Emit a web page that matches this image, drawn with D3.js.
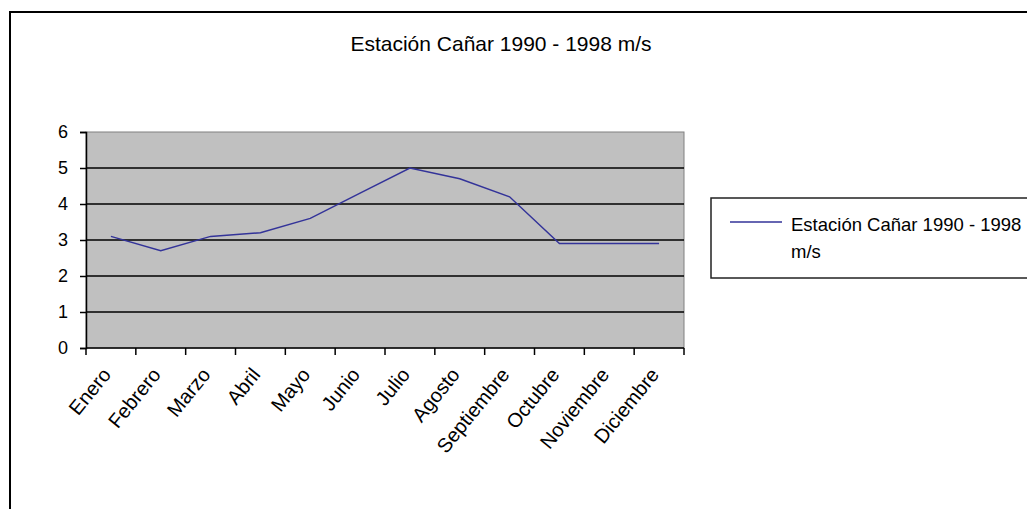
<!DOCTYPE html>
<html>
<head>
<meta charset="utf-8">
<script src="https://cdn.jsdelivr.net/npm/d3@7"></script>
<style>
  html, body { margin: 0; padding: 0; background: #fff; }
  svg { display: block; font-family: "Liberation Sans", Arial, sans-serif; }
</style>
</head>
<body>
<svg id="chart" width="1027" height="509"></svg>
<script>
const chartTitle = "Estación Cañar 1990 - 1998 m/s";
const seriesName = "Estación Cañar 1990 - 1998 m/s";
const months = ["Enero", "Febrero", "Marzo", "Abril", "Mayo", "Junio", "Julio",
                "Agosto", "Septiembre", "Octubre", "Noviembre", "Diciembre"];
const windSpeed = [3.1, 2.7, 3.1, 3.2, 3.6, 4.3, 5.0, 4.7, 4.2, 2.9, 2.9, 2.9];
const yTicks = [0, 1, 2, 3, 4, 5, 6];

const svg = d3.select("#chart");

// outer chart border (extends past right/bottom edges)
svg.append("rect")
  .attr("x", 10).attr("y", 12)
  .attr("width", 1100).attr("height", 600)
  .attr("fill", "#fff").attr("stroke", "#000").attr("stroke-width", 2);

// title
svg.append("text")
  .attr("x", 501).attr("y", 51)
  .attr("text-anchor", "middle")
  .attr("font-size", 21)
  .attr("fill", "#000")
  .text(chartTitle);

const plot = { left: 86, right: 684, top: 132, bottom: 348 };

const x = d3.scaleBand().domain(months).range([plot.left, plot.right]).paddingInner(0).paddingOuter(0);
const y = d3.scaleLinear().domain([0, 6]).range([plot.bottom, plot.top]);

// plot background
svg.append("rect")
  .attr("x", plot.left).attr("y", plot.top)
  .attr("width", plot.right - plot.left).attr("height", plot.bottom - plot.top)
  .attr("fill", "#c0c0c0").attr("stroke", "#808080").attr("stroke-width", 1);

// gridlines
svg.append("g")
  .selectAll("line")
  .data(yTicks.filter(d => d > 0 && d < 6))
  .join("line")
  .attr("x1", plot.left).attr("x2", plot.right)
  .attr("y1", d => y(d)).attr("y2", d => y(d))
  .attr("stroke", "#000").attr("stroke-width", 1.5);

// y axis
const yAxis = svg.append("g")
  .attr("transform", `translate(${plot.left},0)`)
  .call(d3.axisLeft(y).tickValues(yTicks).tickSize(6).tickPadding(12).tickFormat(d3.format("d")));
yAxis.select(".domain").attr("stroke", "#000").attr("stroke-width", 1.5);
yAxis.selectAll(".tick line").attr("stroke", "#000").attr("stroke-width", 1.5);
yAxis.selectAll(".tick text")
  .attr("font-size", 18).attr("fill", "#000")
  .attr("font-family", "Liberation Sans, Arial, sans-serif");

// x axis: ticks on category boundaries
const boundaries = months.map(m => x(m)).concat([plot.right]);
const xg = svg.append("g");
xg.append("line")
  .attr("x1", plot.left).attr("x2", plot.right)
  .attr("y1", plot.bottom).attr("y2", plot.bottom)
  .attr("stroke", "#000").attr("stroke-width", 1.5);
xg.selectAll("line.tk")
  .data(boundaries)
  .join("line").attr("class", "tk")
  .attr("x1", d => d).attr("x2", d => d)
  .attr("y1", plot.bottom).attr("y2", plot.bottom + 7)
  .attr("stroke", "#000").attr("stroke-width", 1.5);

xg.selectAll("text")
  .data(months)
  .join("text")
  .attr("transform", d => `translate(${x(d) + x.bandwidth() / 2 + 1},${plot.bottom + 27}) rotate(-51)`)
  .attr("text-anchor", "end")
  .attr("font-size", 20)
  .attr("fill", "#000")
  .text(d => d);

// line
const line = d3.line()
  .x((d, i) => x(months[i]) + x.bandwidth() / 2)
  .y(d => y(d));
svg.append("path")
  .datum(windSpeed)
  .attr("d", line)
  .attr("fill", "none")
  .attr("stroke", "#333399")
  .attr("stroke-width", 1.5);

// legend
const lg = svg.append("g");
lg.append("rect")
  .attr("x", 711).attr("y", 198)
  .attr("width", 400).attr("height", 80)
  .attr("fill", "#fff").attr("stroke", "#222").attr("stroke-width", 1.5);
lg.append("line")
  .attr("x1", 730).attr("x2", 782)
  .attr("y1", 222).attr("y2", 222)
  .attr("stroke", "#333399").attr("stroke-width", 1.5);
const words = seriesName.split(" ");
lg.append("text")
  .attr("x", 791).attr("y", 231)
  .attr("font-size", 18.5).attr("fill", "#000")
  .text(words.slice(0, -1).join(" "));
lg.append("text")
  .attr("x", 791).attr("y", 258)
  .attr("font-size", 18.5).attr("fill", "#000")
  .text(words[words.length - 1]);
</script>
</body>
</html>
